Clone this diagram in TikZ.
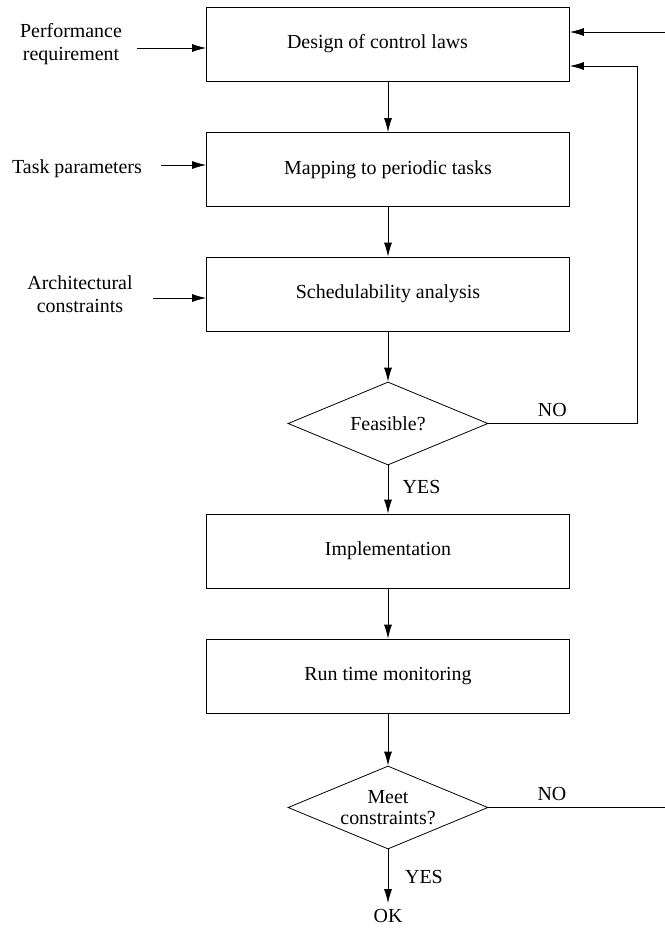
\documentclass[tikz,border=0pt]{standalone}
\usepackage{fontspec}
\setmainfont{Liberation Serif}
\usetikzlibrary{positioning, shapes.geometric, arrows.meta, calc}

\tikzset{
  blk/.style={draw, line width=0.8bp, minimum width=363bp, minimum height=74bp, inner sep=0pt},
  dec/.style={draw, diamond, align=center, line width=0.8bp, aspect=2.4, minimum width=200bp, minimum height=83bp, inner sep=0pt},
  lbl/.style={align=center, inner sep=0pt},
  arr/.style={-{Latex[length=14bp,width=8bp]}, line width=0.8bp},
  ln/.style={line width=0.8bp}
}

\begin{document}
\begin{tikzpicture}[x=1bp,y=-1bp,font=\fontsize{20}{23}\selectfont]
      \useasboundingbox (0,0) rectangle (665,928);
      % main boxes
      \node[blk] (design) at (388,44) {Design of control laws\hspace*{21bp}};
      \node[blk] (map) at (388,169.5) {Mapping to periodic tasks};
      \node[blk] (sched) at (388,294) {Schedulability analysis};
      \node[dec] (feas) at (388,423.5) {Feasible?};
      \node[blk] (impl) at (388,551) {Implementation};
      \node[blk] (mon) at (388,676) {Run time monitoring};
      \node[dec] (meet) at (388,807.5) {Meet\\[-2pt]constraints?};
      \node[lbl] (ok) at (388,916) {OK};
      % inputs
      \node[lbl] (perf) at (71,44) {Performance\\requirement};
      \node[lbl] (task) at (77,169) {Task parameters};
      \node[lbl] (arch) at (80,294) {Architectural\\constraints};
      \draw[arr] (137,48) coordinate (p0) -- (p0 -| design.west);
      \draw[arr] (161,165) coordinate (t0) -- (t0 -| map.west);
      \draw[arr] (153,298) coordinate (a0) -- (a0 -| sched.west);
      % flow
      \draw[arr] (design) -- (map);
      \draw[arr] (map) -- (sched);
      \draw[arr] (sched) -- (feas);
      \draw[arr] (feas) -- node[right=11bp, pos=0.45]{YES} (impl);
      \draw[arr] (impl) -- (mon);
      \draw[arr] (mon) -- (meet);
      \draw[arr] (meet.south) -- ($(ok.north)+(0,-6)$);
      \node[lbl] at (424,877) {YES};
      % feedback
      \coordinate (fb) at (637,66);
      \draw[arr] (feas.east) -- node[above=3bp, pos=0.43]{NO} (feas.east -| fb) -- (fb) -- (fb -| design.east);
      \coordinate (top) at (665,32);
      \draw[arr] (top) -- (top -| design.east);
      \coordinate (out) at (665,807.5);
      \draw[ln] (meet.east) -- node[above=3bp, pos=0.36]{NO} (out);
    \end{tikzpicture}
\end{document}
